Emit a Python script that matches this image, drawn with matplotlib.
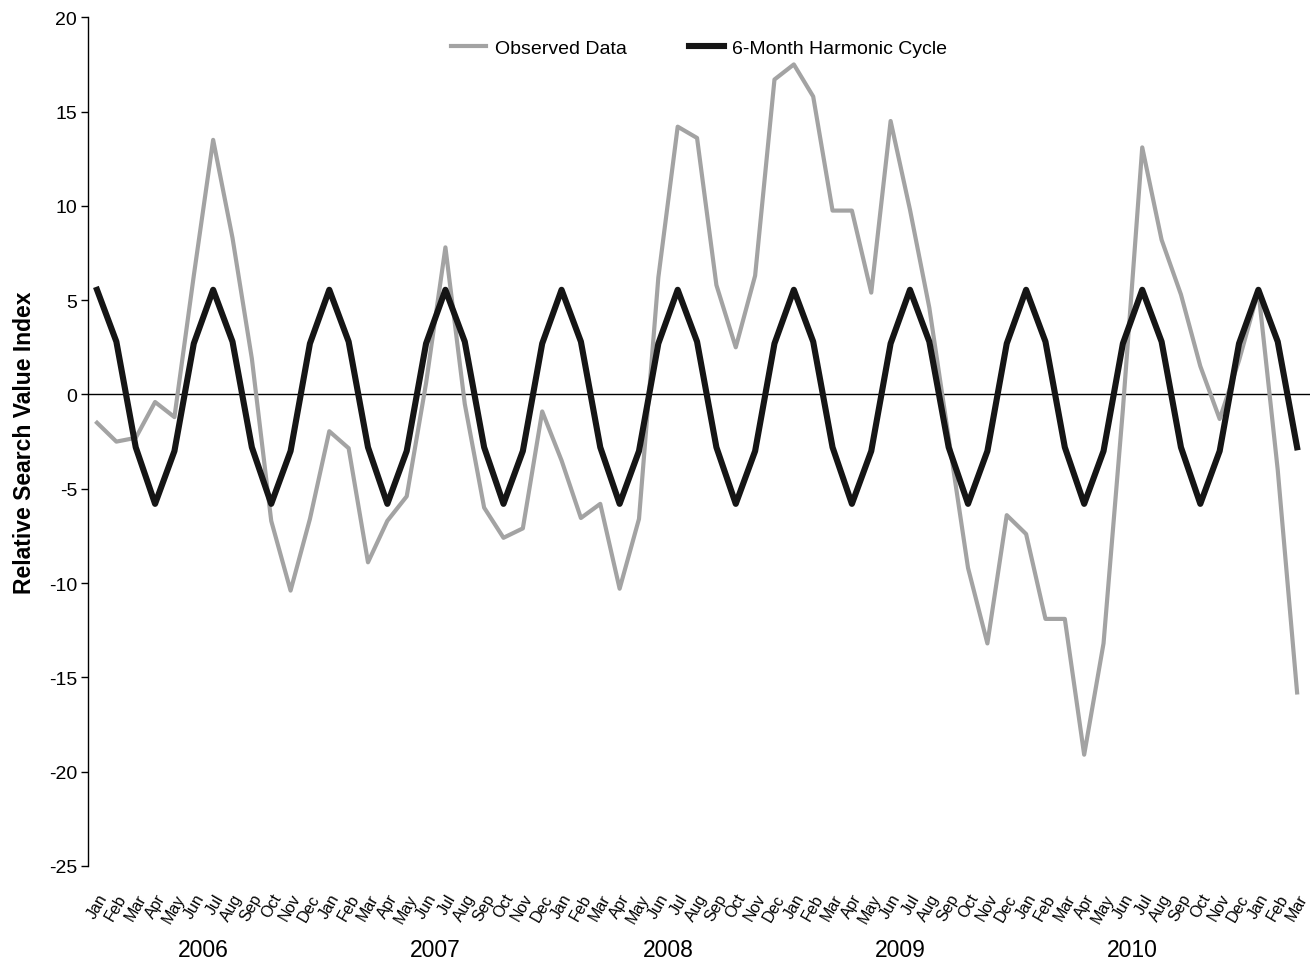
import matplotlib

matplotlib.use("Agg")
import matplotlib.pyplot as plt
import matplotlib.transforms as mtransforms

plt.rcParams["font.family"] = ["Liberation Sans", "DejaVu Sans"]
plt.rcParams["axes.unicode_minus"] = False

MONTHS = ["Jan", "Feb", "Mar", "Apr", "May", "Jun",
          "Jul", "Aug", "Sep", "Oct", "Nov", "Dec"]
YEARS = ["2006", "2007", "2008", "2009", "2010"]
month_labels = MONTHS * 5 + ["Jan", "Feb", "Mar"]

observed = [
    -1.5, -2.5, -2.3, -0.4, -1.2, 6.3, 13.5, 8.3, 1.9, -6.7, -10.4, -6.6,    # 2006
    -1.95, -2.85, -8.9, -6.7, -5.4, 0.6, 7.8, -0.5, -6.0, -7.6, -7.1, -0.9,  # 2007
    -3.5, -6.55, -5.8, -10.3, -6.6, 6.2, 14.2, 13.6, 5.8, 2.5, 6.3, 16.7,    # 2008
    17.5, 15.8, 9.75, 9.75, 5.4, 14.5, 9.8, 4.6, -2.3, -9.2, -13.2, -6.4,    # 2009
    -7.4, -11.9, -11.9, -19.1, -13.2, -0.8, 13.1, 8.2, 5.3, 1.5, -1.3, 1.8,  # 2010
    5.5, -4.0, -15.8,                                                        # 2011
]
harmonic = [
    5.55, 2.8, -2.8, -5.8, -3.0, 2.7, 5.55, 2.8, -2.8, -5.8, -3.0, 2.7,
    5.55, 2.8, -2.8, -5.8, -3.0, 2.7, 5.55, 2.8, -2.8, -5.8, -3.0, 2.7,
    5.55, 2.8, -2.8, -5.8, -3.0, 2.7, 5.55, 2.8, -2.8, -5.8, -3.0, 2.7,
    5.55, 2.8, -2.8, -5.8, -3.0, 2.7, 5.55, 2.8, -2.8, -5.8, -3.0, 2.7,
    5.55, 2.8, -2.8, -5.8, -3.0, 2.7, 5.55, 2.8, -2.8, -5.8, -3.0, 2.7,
    5.55, 2.8, -2.8,
]
x = list(range(len(observed)))

fig = plt.figure(figsize=(13.14, 9.62), dpi=100)
ax = fig.add_axes([0.0672, 0.0988, 0.9298, 0.8822])

ax.plot(x, observed, color="#a3a3a3", lw=3.0, label="Observed Data", zorder=3)
ax.plot(x, harmonic, color="#151515", lw=4.4, label="6-Month Harmonic Cycle", zorder=4)
ax.axhline(0, color="black", lw=1.0, zorder=2)

ax.set_xlim(-0.45, 62.67)
ax.set_ylim(-25, 20)
ax.set_yticks(range(-25, 21, 5))
ax.tick_params(axis="y", direction="out", length=5, width=1, labelsize=14, pad=3)

ax.set_xticks(x)
ax.set_xticklabels(month_labels, rotation=60, ha="right", va="top",
                   rotation_mode="anchor", fontsize=11.5)
ax.tick_params(axis="x", length=0, pad=18)

for side in ("top", "right", "bottom"):
    ax.spines[side].set_visible(False)
ax.spines["left"].set_linewidth(1)

ax.set_ylabel("Relative Search Value Index", fontsize=16.5, fontweight="bold", labelpad=9)

trans = mtransforms.blended_transform_factory(ax.transData, ax.transAxes)
for k, yr in enumerate(YEARS):
    ax.text(5.5 + 12 * k, -0.098, yr, transform=trans, ha="center", va="center",
            fontsize=16.5)

ax.legend(loc="upper center", bbox_to_anchor=(0.5, 0.995), ncol=2, frameon=False,
          fontsize=14, handlelength=1.8, handletextpad=0.45, columnspacing=3.2)

fig.savefig("out.png", dpi=100)
